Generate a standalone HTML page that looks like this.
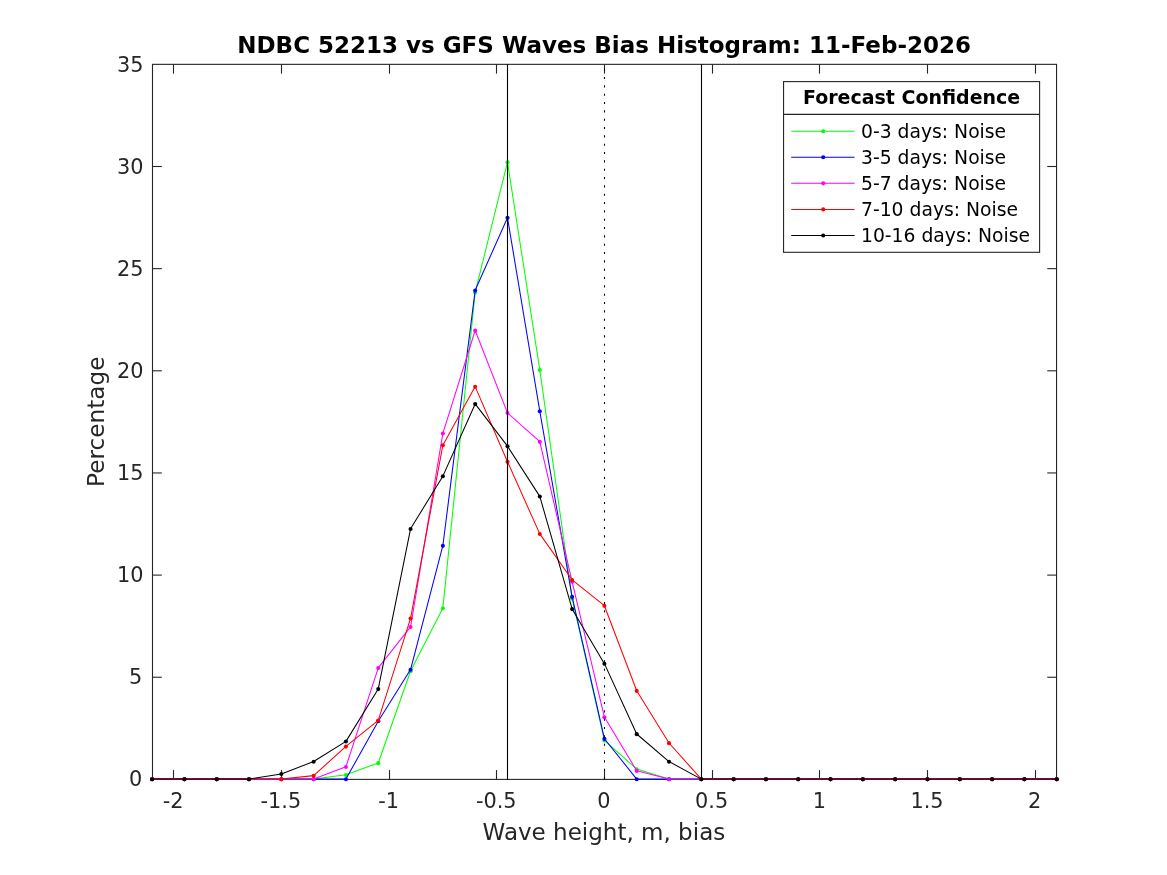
<!DOCTYPE html>
<html lang="en"><head><meta charset="utf-8"><title>NDBC 52213 vs GFS Waves Bias Histogram</title>
<style>html,body{margin:0;padding:0;background:#fff;overflow:hidden}svg{display:block}text{font-family:"DejaVu Sans", "Liberation Sans", sans-serif}</style></head><body>
<svg width="1167" height="875" viewBox="0 0 1167 875">
<rect x="0" y="0" width="1167" height="875" fill="#ffffff"/>
<g stroke="#262626" stroke-width="1.10" fill="none">
<rect x="152.50" y="64.35" width="904.05" height="715.05"/>
<line x1="173.50" y1="779.40" x2="173.50" y2="770.10"/>
<line x1="173.50" y1="64.35" x2="173.50" y2="73.65"/>
<line x1="281.50" y1="779.40" x2="281.50" y2="770.10"/>
<line x1="281.50" y1="64.35" x2="281.50" y2="73.65"/>
<line x1="389.50" y1="779.40" x2="389.50" y2="770.10"/>
<line x1="389.50" y1="64.35" x2="389.50" y2="73.65"/>
<line x1="496.50" y1="779.40" x2="496.50" y2="770.10"/>
<line x1="496.50" y1="64.35" x2="496.50" y2="73.65"/>
<line x1="604.50" y1="779.40" x2="604.50" y2="770.10"/>
<line x1="604.50" y1="64.35" x2="604.50" y2="73.65"/>
<line x1="712.50" y1="779.40" x2="712.50" y2="770.10"/>
<line x1="712.50" y1="64.35" x2="712.50" y2="73.65"/>
<line x1="819.50" y1="779.40" x2="819.50" y2="770.10"/>
<line x1="819.50" y1="64.35" x2="819.50" y2="73.65"/>
<line x1="927.50" y1="779.40" x2="927.50" y2="770.10"/>
<line x1="927.50" y1="64.35" x2="927.50" y2="73.65"/>
<line x1="1035.50" y1="779.40" x2="1035.50" y2="770.10"/>
<line x1="1035.50" y1="64.35" x2="1035.50" y2="73.65"/>
<line x1="152.50" y1="677.25" x2="161.80" y2="677.25"/>
<line x1="1056.55" y1="677.25" x2="1047.25" y2="677.25"/>
<line x1="152.50" y1="575.10" x2="161.80" y2="575.10"/>
<line x1="1056.55" y1="575.10" x2="1047.25" y2="575.10"/>
<line x1="152.50" y1="472.95" x2="161.80" y2="472.95"/>
<line x1="1056.55" y1="472.95" x2="1047.25" y2="472.95"/>
<line x1="152.50" y1="370.80" x2="161.80" y2="370.80"/>
<line x1="1056.55" y1="370.80" x2="1047.25" y2="370.80"/>
<line x1="152.50" y1="268.65" x2="161.80" y2="268.65"/>
<line x1="1056.55" y1="268.65" x2="1047.25" y2="268.65"/>
<line x1="152.50" y1="166.50" x2="161.80" y2="166.50"/>
<line x1="1056.55" y1="166.50" x2="1047.25" y2="166.50"/>
</g>
<g fill="#262626" font-size="20.83px">
<text x="173.14" y="808.00" text-anchor="middle">-2</text>
<text x="280.83" y="808.00" text-anchor="middle">-1.5</text>
<text x="388.52" y="808.00" text-anchor="middle">-1</text>
<text x="496.21" y="808.00" text-anchor="middle">-0.5</text>
<text x="603.90" y="808.00" text-anchor="middle">0</text>
<text x="711.59" y="808.00" text-anchor="middle">0.5</text>
<text x="819.28" y="808.00" text-anchor="middle">1</text>
<text x="926.97" y="808.00" text-anchor="middle">1.5</text>
<text x="1034.66" y="808.00" text-anchor="middle">2</text>
<text x="142.30" y="786.00" text-anchor="end">0</text>
<text x="142.30" y="684.00" text-anchor="end">5</text>
<text x="143.50" y="582.00" text-anchor="end">10</text>
<text x="143.50" y="480.00" text-anchor="end">15</text>
<text x="143.50" y="378.00" text-anchor="end">20</text>
<text x="143.50" y="276.00" text-anchor="end">25</text>
<text x="143.50" y="174.00" text-anchor="end">30</text>
<text x="143.50" y="72.00" text-anchor="end">35</text>
</g>
<text x="603.92" y="840.20" text-anchor="middle" fill="#262626" font-size="23.03px">Wave height, m, bias</text>
<text transform="translate(104.10,421.68) rotate(-90)" text-anchor="middle" fill="#262626" font-size="23.20px">Percentage</text>
<text x="604.12" y="53.20" text-anchor="middle" fill="#000" font-weight="bold" font-size="23.01px">NDBC 52213 vs GFS Waves Bias Histogram: 11-Feb-2026</text>
<polyline points="152.10,779.10 184.41,779.10 216.71,779.10 249.02,779.10 281.33,779.10 313.64,779.10 345.94,774.82 378.25,762.98 410.56,670.98 442.86,608.15 475.17,292.36 507.48,162.20 539.79,369.88 572.09,598.36 604.40,740.34 636.71,769.10 669.01,779.10 701.32,779.10 733.63,779.10 765.94,779.10 798.24,779.10 830.55,779.10 862.86,779.10 895.16,779.10 927.47,779.10 959.78,779.10 992.09,779.10 1024.39,779.10 1056.70,779.10" fill="none" stroke="#00ff00" stroke-width="1.04" stroke-linejoin="round"/>
<g fill="#00ff00">
<circle cx="152.10" cy="779.25" r="2.05"/>
<circle cx="184.41" cy="779.25" r="2.05"/>
<circle cx="216.71" cy="779.25" r="2.05"/>
<circle cx="249.02" cy="779.25" r="2.05"/>
<circle cx="281.33" cy="779.25" r="2.05"/>
<circle cx="313.64" cy="779.25" r="2.05"/>
<circle cx="345.94" cy="774.97" r="2.05"/>
<circle cx="378.25" cy="763.13" r="2.05"/>
<circle cx="410.56" cy="671.13" r="2.05"/>
<circle cx="442.86" cy="608.30" r="2.05"/>
<circle cx="475.17" cy="292.51" r="2.05"/>
<circle cx="507.48" cy="162.35" r="2.05"/>
<circle cx="539.79" cy="370.03" r="2.05"/>
<circle cx="572.09" cy="598.51" r="2.05"/>
<circle cx="604.40" cy="740.49" r="2.05"/>
<circle cx="636.71" cy="769.25" r="2.05"/>
<circle cx="669.01" cy="779.25" r="2.05"/>
<circle cx="701.32" cy="779.25" r="2.05"/>
<circle cx="733.63" cy="779.25" r="2.05"/>
<circle cx="765.94" cy="779.25" r="2.05"/>
<circle cx="798.24" cy="779.25" r="2.05"/>
<circle cx="830.55" cy="779.25" r="2.05"/>
<circle cx="862.86" cy="779.25" r="2.05"/>
<circle cx="895.16" cy="779.25" r="2.05"/>
<circle cx="927.47" cy="779.25" r="2.05"/>
<circle cx="959.78" cy="779.25" r="2.05"/>
<circle cx="992.09" cy="779.25" r="2.05"/>
<circle cx="1024.39" cy="779.25" r="2.05"/>
<circle cx="1056.70" cy="779.25" r="2.05"/>
</g>
<polyline points="152.10,779.10 184.41,779.10 216.71,779.10 249.02,779.10 281.33,779.10 313.64,779.10 345.94,779.10 378.25,721.16 410.56,669.55 442.86,545.72 475.17,290.32 507.48,217.69 539.79,411.08 572.09,596.72 604.40,738.71 636.71,779.10 669.01,779.10 701.32,779.10 733.63,779.10 765.94,779.10 798.24,779.10 830.55,779.10 862.86,779.10 895.16,779.10 927.47,779.10 959.78,779.10 992.09,779.10 1024.39,779.10 1056.70,779.10" fill="none" stroke="#0000ff" stroke-width="1.04" stroke-linejoin="round"/>
<g fill="#0000ff">
<circle cx="152.10" cy="779.25" r="2.05"/>
<circle cx="184.41" cy="779.25" r="2.05"/>
<circle cx="216.71" cy="779.25" r="2.05"/>
<circle cx="249.02" cy="779.25" r="2.05"/>
<circle cx="281.33" cy="779.25" r="2.05"/>
<circle cx="313.64" cy="779.25" r="2.05"/>
<circle cx="345.94" cy="779.25" r="2.05"/>
<circle cx="378.25" cy="721.31" r="2.05"/>
<circle cx="410.56" cy="669.70" r="2.05"/>
<circle cx="442.86" cy="545.87" r="2.05"/>
<circle cx="475.17" cy="290.47" r="2.05"/>
<circle cx="507.48" cy="217.84" r="2.05"/>
<circle cx="539.79" cy="411.23" r="2.05"/>
<circle cx="572.09" cy="596.87" r="2.05"/>
<circle cx="604.40" cy="738.86" r="2.05"/>
<circle cx="636.71" cy="779.25" r="2.05"/>
<circle cx="669.01" cy="779.25" r="2.05"/>
<circle cx="701.32" cy="779.25" r="2.05"/>
<circle cx="733.63" cy="779.25" r="2.05"/>
<circle cx="765.94" cy="779.25" r="2.05"/>
<circle cx="798.24" cy="779.25" r="2.05"/>
<circle cx="830.55" cy="779.25" r="2.05"/>
<circle cx="862.86" cy="779.25" r="2.05"/>
<circle cx="895.16" cy="779.25" r="2.05"/>
<circle cx="927.47" cy="779.25" r="2.05"/>
<circle cx="959.78" cy="779.25" r="2.05"/>
<circle cx="992.09" cy="779.25" r="2.05"/>
<circle cx="1024.39" cy="779.25" r="2.05"/>
<circle cx="1056.70" cy="779.25" r="2.05"/>
</g>
<polyline points="152.10,779.10 184.41,779.10 216.71,779.10 249.02,779.10 281.33,779.10 313.64,779.10 345.94,766.86 378.25,667.92 410.56,626.92 442.86,433.32 475.17,330.50 507.48,412.92 539.79,441.68 572.09,581.63 604.40,717.08 636.71,770.74 669.01,779.10 701.32,779.10 733.63,779.10 765.94,779.10 798.24,779.10 830.55,779.10 862.86,779.10 895.16,779.10 927.47,779.10 959.78,779.10 992.09,779.10 1024.39,779.10 1056.70,779.10" fill="none" stroke="#ff00ff" stroke-width="1.04" stroke-linejoin="round"/>
<g fill="#ff00ff">
<circle cx="152.10" cy="779.25" r="2.05"/>
<circle cx="184.41" cy="779.25" r="2.05"/>
<circle cx="216.71" cy="779.25" r="2.05"/>
<circle cx="249.02" cy="779.25" r="2.05"/>
<circle cx="281.33" cy="779.25" r="2.05"/>
<circle cx="313.64" cy="779.25" r="2.05"/>
<circle cx="345.94" cy="767.01" r="2.05"/>
<circle cx="378.25" cy="668.07" r="2.05"/>
<circle cx="410.56" cy="627.07" r="2.05"/>
<circle cx="442.86" cy="433.47" r="2.05"/>
<circle cx="475.17" cy="330.65" r="2.05"/>
<circle cx="507.48" cy="413.07" r="2.05"/>
<circle cx="539.79" cy="441.83" r="2.05"/>
<circle cx="572.09" cy="581.78" r="2.05"/>
<circle cx="604.40" cy="717.23" r="2.05"/>
<circle cx="636.71" cy="770.89" r="2.05"/>
<circle cx="669.01" cy="779.25" r="2.05"/>
<circle cx="701.32" cy="779.25" r="2.05"/>
<circle cx="733.63" cy="779.25" r="2.05"/>
<circle cx="765.94" cy="779.25" r="2.05"/>
<circle cx="798.24" cy="779.25" r="2.05"/>
<circle cx="830.55" cy="779.25" r="2.05"/>
<circle cx="862.86" cy="779.25" r="2.05"/>
<circle cx="895.16" cy="779.25" r="2.05"/>
<circle cx="927.47" cy="779.25" r="2.05"/>
<circle cx="959.78" cy="779.25" r="2.05"/>
<circle cx="992.09" cy="779.25" r="2.05"/>
<circle cx="1024.39" cy="779.25" r="2.05"/>
<circle cx="1056.70" cy="779.25" r="2.05"/>
</g>
<polyline points="152.10,779.10 184.41,779.10 216.71,779.10 249.02,779.10 281.33,779.10 313.64,775.63 345.94,746.46 378.25,720.35 410.56,618.35 442.86,445.15 475.17,386.60 507.48,461.68 539.79,533.89 572.09,579.79 604.40,605.70 636.71,690.77 669.01,742.99 701.32,779.10 733.63,779.10 765.94,779.10 798.24,779.10 830.55,779.10 862.86,779.10 895.16,779.10 927.47,779.10 959.78,779.10 992.09,779.10 1024.39,779.10 1056.70,779.10" fill="none" stroke="#ff0000" stroke-width="1.04" stroke-linejoin="round"/>
<g fill="#ff0000">
<circle cx="152.10" cy="779.25" r="2.05"/>
<circle cx="184.41" cy="779.25" r="2.05"/>
<circle cx="216.71" cy="779.25" r="2.05"/>
<circle cx="249.02" cy="779.25" r="2.05"/>
<circle cx="281.33" cy="779.25" r="2.05"/>
<circle cx="313.64" cy="775.78" r="2.05"/>
<circle cx="345.94" cy="746.61" r="2.05"/>
<circle cx="378.25" cy="720.50" r="2.05"/>
<circle cx="410.56" cy="618.50" r="2.05"/>
<circle cx="442.86" cy="445.30" r="2.05"/>
<circle cx="475.17" cy="386.75" r="2.05"/>
<circle cx="507.48" cy="461.83" r="2.05"/>
<circle cx="539.79" cy="534.04" r="2.05"/>
<circle cx="572.09" cy="579.94" r="2.05"/>
<circle cx="604.40" cy="605.85" r="2.05"/>
<circle cx="636.71" cy="690.92" r="2.05"/>
<circle cx="669.01" cy="743.14" r="2.05"/>
<circle cx="701.32" cy="779.25" r="2.05"/>
<circle cx="733.63" cy="779.25" r="2.05"/>
<circle cx="765.94" cy="779.25" r="2.05"/>
<circle cx="798.24" cy="779.25" r="2.05"/>
<circle cx="830.55" cy="779.25" r="2.05"/>
<circle cx="862.86" cy="779.25" r="2.05"/>
<circle cx="895.16" cy="779.25" r="2.05"/>
<circle cx="927.47" cy="779.25" r="2.05"/>
<circle cx="959.78" cy="779.25" r="2.05"/>
<circle cx="992.09" cy="779.25" r="2.05"/>
<circle cx="1024.39" cy="779.25" r="2.05"/>
<circle cx="1056.70" cy="779.25" r="2.05"/>
</g>
<polyline points="152.10,779.10 184.41,779.10 216.71,779.10 249.02,779.10 281.33,773.90 313.64,761.56 345.94,741.36 378.25,688.93 410.56,528.79 442.86,476.16 475.17,403.94 507.48,446.17 539.79,496.36 572.09,608.96 604.40,663.64 636.71,734.02 669.01,761.56 701.32,779.10 733.63,779.10 765.94,779.10 798.24,779.10 830.55,779.10 862.86,779.10 895.16,779.10 927.47,779.10 959.78,779.10 992.09,779.10 1024.39,779.10 1056.70,779.10" fill="none" stroke="#000000" stroke-width="1.04" stroke-linejoin="round"/>
<g fill="#000000">
<circle cx="152.10" cy="779.25" r="2.05"/>
<circle cx="184.41" cy="779.25" r="2.05"/>
<circle cx="216.71" cy="779.25" r="2.05"/>
<circle cx="249.02" cy="779.25" r="2.05"/>
<circle cx="281.33" cy="774.05" r="2.05"/>
<circle cx="313.64" cy="761.71" r="2.05"/>
<circle cx="345.94" cy="741.51" r="2.05"/>
<circle cx="378.25" cy="689.08" r="2.05"/>
<circle cx="410.56" cy="528.94" r="2.05"/>
<circle cx="442.86" cy="476.31" r="2.05"/>
<circle cx="475.17" cy="404.09" r="2.05"/>
<circle cx="507.48" cy="446.32" r="2.05"/>
<circle cx="539.79" cy="496.51" r="2.05"/>
<circle cx="572.09" cy="609.11" r="2.05"/>
<circle cx="604.40" cy="663.79" r="2.05"/>
<circle cx="636.71" cy="734.17" r="2.05"/>
<circle cx="669.01" cy="761.71" r="2.05"/>
<circle cx="701.32" cy="779.25" r="2.05"/>
<circle cx="733.63" cy="779.25" r="2.05"/>
<circle cx="765.94" cy="779.25" r="2.05"/>
<circle cx="798.24" cy="779.25" r="2.05"/>
<circle cx="830.55" cy="779.25" r="2.05"/>
<circle cx="862.86" cy="779.25" r="2.05"/>
<circle cx="895.16" cy="779.25" r="2.05"/>
<circle cx="927.47" cy="779.25" r="2.05"/>
<circle cx="959.78" cy="779.25" r="2.05"/>
<circle cx="992.09" cy="779.25" r="2.05"/>
<circle cx="1024.39" cy="779.25" r="2.05"/>
<circle cx="1056.70" cy="779.25" r="2.05"/>
</g>
<g stroke="#000" stroke-width="1.10">
<line x1="507.50" y1="64.35" x2="507.50" y2="779.40"/>
<line x1="701.50" y1="64.35" x2="701.50" y2="779.40"/>
</g>
<line x1="604.50" y1="68.69" x2="604.50" y2="779.40" stroke="#000" stroke-width="1.10" stroke-dasharray="2.08 6.2533"/>
<rect x="783.55" y="81.60" width="256.05" height="170.70" fill="#fff" stroke="#262626" stroke-width="1.10"/>
<line x1="783.55" y1="114.4" x2="1039.60" y2="114.4" stroke="#262626" stroke-width="1.10"/>
<text x="911.57" y="104.35" text-anchor="middle" fill="#000" font-weight="bold" font-size="18.99px">Forecast Confidence</text>
<line x1="791.2" y1="131.20" x2="854.6" y2="131.20" stroke="#00ff00" stroke-width="1.04"/>
<circle cx="823.2" cy="131.20" r="2.05" fill="#00ff00"/>
<text x="861.00" y="138.00" fill="#000" font-size="18.75px">0-3 days: Noise</text>
<line x1="791.2" y1="157.27" x2="854.6" y2="157.27" stroke="#0000ff" stroke-width="1.04"/>
<circle cx="823.2" cy="157.27" r="2.05" fill="#0000ff"/>
<text x="861.00" y="164.07" fill="#000" font-size="18.75px">3-5 days: Noise</text>
<line x1="791.2" y1="183.34" x2="854.6" y2="183.34" stroke="#ff00ff" stroke-width="1.04"/>
<circle cx="823.2" cy="183.34" r="2.05" fill="#ff00ff"/>
<text x="861.00" y="190.14" fill="#000" font-size="18.75px">5-7 days: Noise</text>
<line x1="791.2" y1="209.41" x2="854.6" y2="209.41" stroke="#ff0000" stroke-width="1.04"/>
<circle cx="823.2" cy="209.41" r="2.05" fill="#ff0000"/>
<text x="861.00" y="216.21" fill="#000" font-size="18.75px">7-10 days: Noise</text>
<line x1="791.2" y1="235.48" x2="854.6" y2="235.48" stroke="#000000" stroke-width="1.04"/>
<circle cx="823.2" cy="235.48" r="2.05" fill="#000000"/>
<text x="861.00" y="242.28" fill="#000" font-size="18.75px">10-16 days: Noise</text>
</svg></body></html>
